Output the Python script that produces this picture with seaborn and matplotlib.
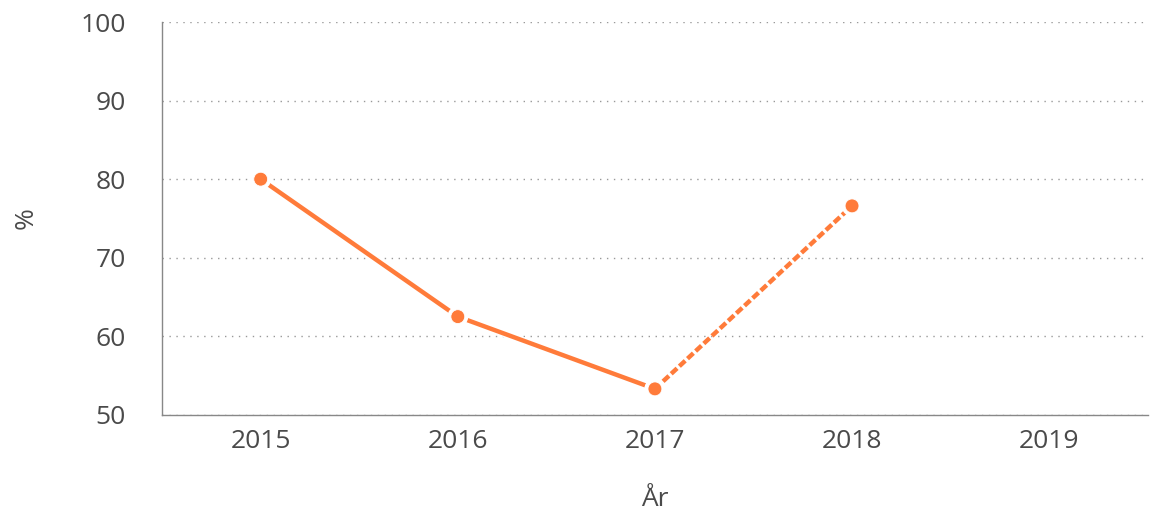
import pandas as pd
import seaborn as sns
import matplotlib.pyplot as plt
import matplotlib.patheffects as pe

years = [2015, 2016, 2017, 2018]
values = [80.0, 62.5, 53.3, 76.6]
tick_years = [2015, 2016, 2017, 2018, 2019]
y_ticks = [50, 60, 70, 80, 90, 100]

orange = '#FF7B3A'
text_grey = '#4a4a4a'

sns.set_theme(style='white')
plt.rcParams['font.family'] = ['Open Sans', 'DejaVu Sans']

df = pd.DataFrame({'year': years, 'value': values})
solid = df[df['year'] <= 2017]
dashed = df[df['year'] >= 2017]

fig = plt.figure(figsize=(11.5, 5.14), dpi=100)
ax = fig.add_axes([0.141, 0.193, 0.857, 0.764])

outline = [pe.Stroke(linewidth=5, foreground='white'), pe.Normal()]

sns.lineplot(data=solid, x='year', y='value', ax=ax, color=orange, linewidth=3.2,
             marker='o', markersize=10, markeredgecolor='white', markeredgewidth=0.6,
             path_effects=outline)
sns.lineplot(data=dashed, x='year', y='value', ax=ax, color=orange, linewidth=3.2,
             linestyle=(0, (1.8, 0.7)), marker='o', markersize=10,
             markeredgecolor='white', markeredgewidth=0.6, path_effects=outline)

ax.set_xlim(2014.5, 2019.5)
ax.set_ylim(50, 100)
ax.set_xticks(tick_years)
ax.set_xticklabels([str(y) for y in tick_years])
ax.set_yticks(y_ticks)

ax.yaxis.grid(True, linestyle=(0, (1, 4)), color='#999999', linewidth=1)
ax.xaxis.grid(False)
ax.set_axisbelow(True)

for side in ['top', 'right']:
    ax.spines[side].set_visible(False)
for side in ['left', 'bottom']:
    ax.spines[side].set_color('#888888')
    ax.spines[side].set_linewidth(1)

ax.tick_params(axis='both', colors=text_grey, labelsize=19, length=0)
ax.tick_params(axis='y', pad=26)
ax.tick_params(axis='x', pad=10)

ax.set_xlabel('År', fontsize=19, color=text_grey, labelpad=24)
ax.set_ylabel('%', fontsize=19, color=text_grey, labelpad=30)

fig.savefig('out.png', dpi=100)
